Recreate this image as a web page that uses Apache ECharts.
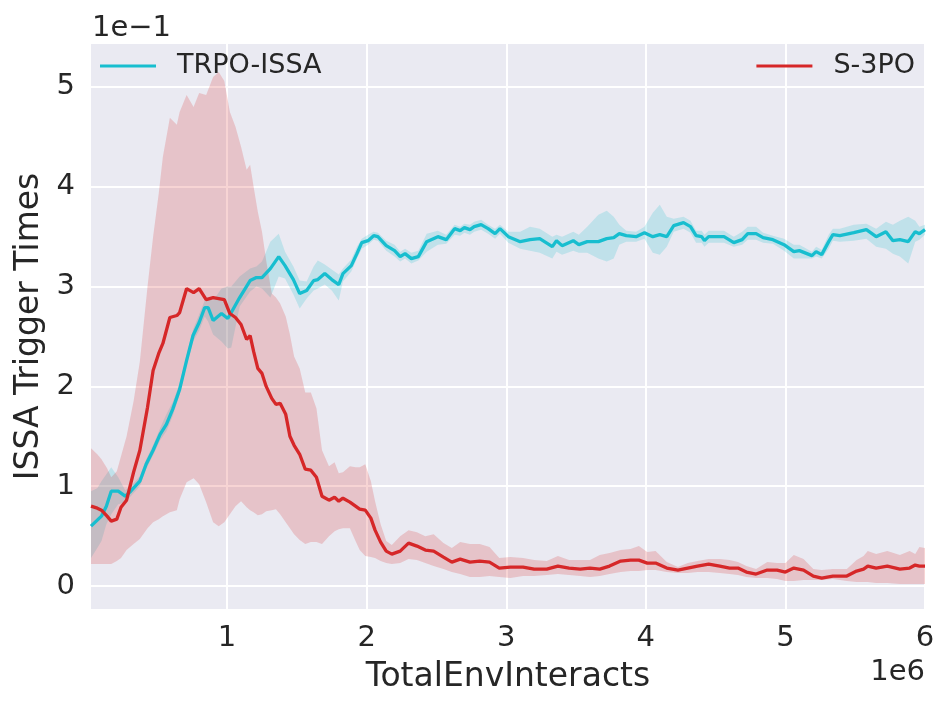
<!DOCTYPE html>
<html>
<head>
<meta charset="utf-8">
<title>ISSA Trigger Times</title>
<script src="https://cdn.jsdelivr.net/npm/echarts@6/dist/echarts.min.js"></script>
<style>
  body { margin: 0; background: #ffffff; }
  #container { width: 951px; height: 709px; }
</style>
</head>
<body>
<div id="container"></div>
<script>
// x in units of 1e6 env interacts, y in units of 1e-1
var X_TICKS = [1, 2, 3, 4, 5, 6];
var Y_TICKS = [0, 1, 2, 3, 4, 5];

var trpoX = [0.025,0.07,0.10,0.135,0.17,0.22,0.27,0.31,0.375,0.42,0.47,0.52,0.565,0.61,0.66,0.71,0.756,0.80,0.84,0.864,0.90,0.96,1.005,1.03,1.09,1.165,1.21,1.25,1.31,1.37,1.415,1.475,1.52,1.57,1.62,1.65,1.70,1.75,1.80,1.83,1.89,1.93,1.965,2.01,2.05,2.08,2.14,2.20,2.24,2.275,2.32,2.37,2.43,2.51,2.57,2.63,2.67,2.70,2.74,2.77,2.82,2.87,2.92,2.955,3.015,3.10,3.17,3.24,3.33,3.36,3.40,3.48,3.52,3.58,3.66,3.72,3.77,3.81,3.86,3.93,3.99,4.05,4.10,4.15,4.20,4.27,4.32,4.36,4.40,4.42,4.45,4.56,4.63,4.69,4.73,4.79,4.84,4.91,4.99,5.06,5.10,5.19,5.22,5.26,5.31,5.34,5.39,5.49,5.58,5.65,5.72,5.77,5.82,5.88,5.93,5.96,6.00];
var trpoMean = [0.60,0.66,0.70,0.80,0.95,0.95,0.90,0.95,1.05,1.22,1.36,1.52,1.62,1.77,1.97,2.26,2.51,2.64,2.79,2.79,2.66,2.73,2.68,2.74,2.89,3.06,3.09,3.09,3.18,3.30,3.21,3.07,2.93,2.96,3.06,3.07,3.13,3.07,3.02,3.13,3.21,3.33,3.44,3.46,3.51,3.50,3.41,3.36,3.30,3.33,3.28,3.30,3.45,3.50,3.47,3.58,3.56,3.59,3.57,3.60,3.62,3.58,3.53,3.58,3.50,3.45,3.47,3.48,3.40,3.46,3.41,3.46,3.42,3.45,3.45,3.48,3.49,3.53,3.51,3.50,3.54,3.50,3.52,3.50,3.61,3.64,3.60,3.51,3.50,3.46,3.50,3.50,3.44,3.47,3.53,3.53,3.49,3.47,3.42,3.35,3.36,3.31,3.35,3.32,3.45,3.52,3.51,3.54,3.57,3.50,3.55,3.46,3.47,3.45,3.55,3.53,3.57];
var trpoLo = [0.28,0.38,0.45,0.62,0.72,0.82,0.84,0.90,1.00,1.17,1.31,1.46,1.55,1.70,1.92,2.21,2.45,2.56,2.70,2.65,2.52,2.45,2.38,2.39,2.80,2.95,3.00,2.98,2.89,3.10,3.08,2.92,2.78,2.88,2.96,2.98,3.02,2.96,2.86,3.05,3.15,3.28,3.38,3.42,3.47,3.46,3.36,3.30,3.25,3.28,3.23,3.26,3.35,3.42,3.43,3.52,3.51,3.54,3.52,3.55,3.57,3.53,3.48,3.53,3.44,3.38,3.36,3.34,3.28,3.35,3.32,3.36,3.34,3.34,3.28,3.25,3.28,3.42,3.45,3.45,3.48,3.34,3.32,3.40,3.55,3.58,3.54,3.44,3.44,3.40,3.44,3.44,3.40,3.42,3.47,3.47,3.44,3.43,3.36,3.28,3.28,3.28,3.30,3.28,3.38,3.46,3.45,3.46,3.48,3.40,3.38,3.33,3.30,3.23,3.45,3.47,3.52];
var trpoHi = [0.95,0.98,1.05,1.12,1.19,1.09,0.96,1.00,1.10,1.27,1.41,1.58,1.72,1.84,2.03,2.31,2.57,2.72,2.86,2.88,2.86,2.98,3.00,3.00,3.10,3.18,3.20,3.25,3.45,3.53,3.35,3.20,3.06,3.05,3.20,3.26,3.22,3.17,3.12,3.18,3.27,3.40,3.48,3.52,3.55,3.54,3.46,3.42,3.35,3.38,3.34,3.36,3.53,3.56,3.52,3.62,3.60,3.63,3.62,3.65,3.67,3.62,3.58,3.62,3.55,3.55,3.60,3.58,3.50,3.52,3.50,3.55,3.52,3.60,3.72,3.76,3.70,3.62,3.56,3.55,3.60,3.74,3.82,3.70,3.68,3.70,3.66,3.56,3.56,3.52,3.56,3.56,3.50,3.55,3.60,3.60,3.54,3.51,3.48,3.42,3.42,3.35,3.40,3.37,3.52,3.58,3.58,3.62,3.63,3.58,3.65,3.62,3.66,3.70,3.66,3.60,3.62];

var s3poX = [0.025,0.07,0.10,0.14,0.17,0.21,0.24,0.28,0.33,0.375,0.43,0.47,0.51,0.54,0.59,0.64,0.66,0.71,0.76,0.80,0.85,0.90,0.94,0.98,1.02,1.06,1.10,1.14,1.165,1.19,1.22,1.25,1.28,1.32,1.35,1.38,1.42,1.45,1.48,1.52,1.56,1.60,1.64,1.68,1.73,1.77,1.80,1.83,1.88,1.92,1.95,1.99,2.03,2.06,2.10,2.14,2.18,2.24,2.30,2.36,2.42,2.48,2.55,2.61,2.67,2.74,2.81,2.88,2.95,3.03,3.12,3.20,3.29,3.37,3.45,3.53,3.60,3.67,3.74,3.82,3.89,3.95,4.01,4.07,4.15,4.23,4.30,4.37,4.45,4.53,4.60,4.66,4.72,4.79,4.87,4.94,5.00,5.06,5.13,5.20,5.26,5.34,5.44,5.51,5.56,5.59,5.65,5.73,5.82,5.89,5.93,5.96,6.00];
var s3poMean = [0.80,0.78,0.76,0.70,0.65,0.67,0.79,0.86,1.14,1.36,1.79,2.16,2.33,2.43,2.69,2.71,2.74,2.98,2.94,2.98,2.87,2.89,2.88,2.87,2.73,2.69,2.62,2.47,2.51,2.35,2.18,2.13,2.00,1.88,1.82,1.83,1.72,1.50,1.41,1.32,1.17,1.16,1.09,0.90,0.86,0.89,0.85,0.88,0.84,0.80,0.77,0.76,0.68,0.56,0.44,0.35,0.32,0.35,0.43,0.40,0.36,0.35,0.29,0.24,0.27,0.24,0.25,0.24,0.18,0.19,0.19,0.17,0.17,0.20,0.18,0.17,0.18,0.17,0.20,0.25,0.26,0.26,0.23,0.23,0.18,0.16,0.18,0.20,0.22,0.20,0.18,0.18,0.14,0.12,0.16,0.16,0.14,0.18,0.16,0.10,0.08,0.10,0.10,0.15,0.17,0.20,0.18,0.20,0.17,0.18,0.21,0.20,0.20];
var s3poLo = [0.22,0.22,0.22,0.22,0.22,0.25,0.28,0.36,0.42,0.47,0.58,0.64,0.67,0.70,0.74,0.76,0.87,1.04,1.08,1.02,0.84,0.64,0.60,0.64,0.72,0.80,0.85,0.79,0.76,0.74,0.71,0.72,0.75,0.76,0.77,0.72,0.64,0.58,0.52,0.46,0.42,0.44,0.44,0.42,0.50,0.55,0.57,0.58,0.58,0.45,0.36,0.30,0.29,0.28,0.25,0.23,0.22,0.23,0.27,0.26,0.23,0.20,0.17,0.14,0.12,0.09,0.09,0.10,0.09,0.08,0.10,0.10,0.11,0.12,0.11,0.10,0.09,0.10,0.12,0.14,0.15,0.15,0.16,0.16,0.14,0.13,0.13,0.14,0.14,0.13,0.12,0.11,0.09,0.08,0.08,0.07,0.05,0.05,0.06,0.06,0.06,0.07,0.05,0.04,0.04,0.04,0.03,0.03,0.02,0.02,0.02,0.02,0.02];
var s3poHi = [1.38,1.32,1.27,1.18,1.09,1.15,1.30,1.50,1.85,2.25,3.00,3.50,3.93,4.30,4.69,4.62,4.75,4.92,4.80,4.94,4.92,5.10,5.15,5.06,4.75,4.60,4.40,4.17,4.22,4.00,3.75,3.55,3.26,2.93,2.89,2.83,2.70,2.52,2.30,2.18,1.94,1.94,1.78,1.36,1.20,1.24,1.13,1.14,1.20,1.19,1.19,1.22,1.05,0.85,0.62,0.45,0.41,0.50,0.56,0.54,0.50,0.52,0.43,0.38,0.44,0.42,0.42,0.39,0.28,0.29,0.28,0.26,0.25,0.30,0.26,0.26,0.26,0.31,0.33,0.36,0.37,0.40,0.34,0.35,0.24,0.19,0.23,0.25,0.27,0.27,0.26,0.24,0.20,0.17,0.24,0.23,0.23,0.31,0.27,0.17,0.16,0.17,0.17,0.26,0.30,0.35,0.32,0.35,0.31,0.35,0.32,0.39,0.38];

var TEXT = '#262626';
var FONT = 'DejaVu Sans';

function pairs(xs, ys) {
    var out = [];
    for (var i = 0; i < xs.length; i++) out.push([xs[i], ys[i]]);
    return out;
}

// shaded band drawn as one polygon through the grid's own scale
function band(name, xs, lo, hi, fill) {
    var data = [];
    for (var i = 0; i < xs.length; i++) data.push([xs[i], lo[i], hi[i]]);
    return {
        type: 'custom',
        name: name,
        silent: true,
        clip: true,
        z: 1,
        encode: { x: 0, y: [1, 2] },
        data: data,
        renderItem: function (params, api) {
            if (params.dataIndex !== 0) return null;
            var pts = [];
            for (var i = 0; i < xs.length; i++) pts.push(api.coord([xs[i], hi[i]]));
            for (var j = xs.length - 1; j >= 0; j--) pts.push(api.coord([xs[j], lo[j]]));
            return { type: 'polygon', shape: { points: pts }, style: { fill: fill } };
        }
    };
}

var chart = echarts.init(document.getElementById('container'));
var option = {
    animation: false,
    backgroundColor: '#ffffff',
    textStyle: { fontFamily: FONT },
    grid: { left: 91, right: 26, top: 44, bottom: 100, show: true, backgroundColor: '#EAEAF2', borderWidth: 0 },
    legend: [
        { data: ['TRPO-ISSA'], left: 100, top: 51, padding: 0, icon: 'rect', itemWidth: 56, itemHeight: 3,
          textStyle: { color: TEXT, fontSize: 27, fontFamily: FONT, lineHeight: 30, padding: [0, 0, 0, 16] } },
        { data: ['S-3PO'], right: 36, top: 51, padding: 0, icon: 'rect', itemWidth: 56, itemHeight: 3,
          textStyle: { color: TEXT, fontSize: 27, fontFamily: FONT, lineHeight: 30, padding: [0, 0, 0, 16] } }
    ],
    xAxis: {
        type: 'value', min: 0.025, max: 6,
        name: 'TotalEnvInteracts', nameLocation: 'middle', nameGap: 52,
        nameTextStyle: { color: TEXT, fontSize: 33, fontFamily: FONT },
        axisLine: { show: false },
        axisTick: { show: false, customValues: X_TICKS },
        axisLabel: { customValues: X_TICKS, color: TEXT, fontSize: 29, fontFamily: FONT, margin: 15 },
        splitLine: { show: true, lineStyle: { color: '#ffffff', width: 2 } }
    },
    yAxis: {
        type: 'value', min: -0.23, max: 5.43,
        name: 'ISSA Trigger Times', nameLocation: 'middle', nameGap: 36,
        nameTextStyle: { color: TEXT, fontSize: 33, fontFamily: FONT },
        axisLine: { show: false },
        axisTick: { show: false, customValues: Y_TICKS },
        axisLabel: { customValues: Y_TICKS, color: TEXT, fontSize: 29, fontFamily: FONT, margin: 16 },
        splitLine: { show: true, lineStyle: { color: '#ffffff', width: 2 } }
    },
    graphic: [
        { type: 'text', x: 92, y: 28, style: { text: '1e\u22121', font: '29px "DejaVu Sans"', fill: TEXT, align: 'left', verticalAlign: 'middle' } },
        { type: 'text', x: 925, y: 672, style: { text: '1e6', font: '29px "DejaVu Sans"', fill: TEXT, align: 'right', verticalAlign: 'middle' } }
    ],
    series: [
        band('TRPO-ISSA band', trpoX, trpoLo, trpoHi, 'rgba(23,190,207,0.2)'),
        band('S-3PO band', s3poX, s3poLo, s3poHi, 'rgba(214,39,40,0.2)'),
        { type: 'line', name: 'TRPO-ISSA', z: 3, color: '#17becf', showSymbol: false, symbol: 'none',
          lineStyle: { color: '#17becf', width: 3.3 }, itemStyle: { color: '#17becf' },
          data: pairs(trpoX, trpoMean) },
        { type: 'line', name: 'S-3PO', z: 4, color: '#d62728', showSymbol: false, symbol: 'none',
          lineStyle: { color: '#d62728', width: 3.3 }, itemStyle: { color: '#d62728' },
          data: pairs(s3poX, s3poMean) }
    ]
};
chart.setOption(option);
</script>
</body>
</html>
